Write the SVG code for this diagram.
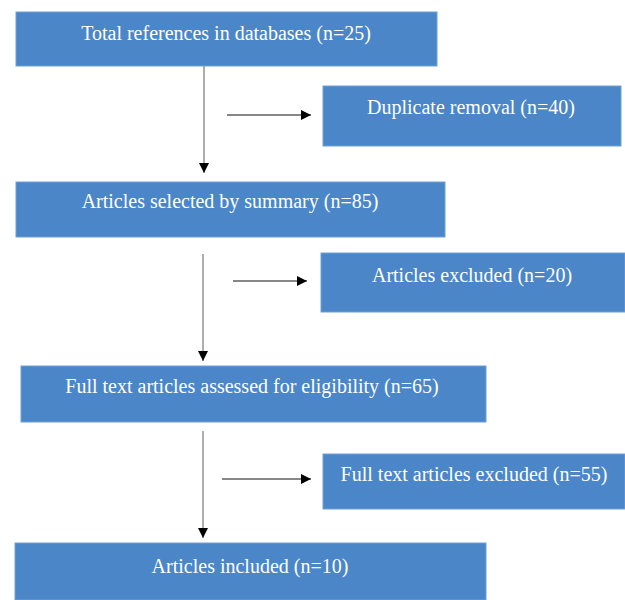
<svg xmlns="http://www.w3.org/2000/svg" width="625" height="600" viewBox="0 0 625 600">
<defs>
<style>
.box{fill:#4a86c8;stroke:#6e9fd5;stroke-width:1}
.lbl{font-family:"Liberation Serif","Times New Roman",serif;font-size:20px;fill:#ffffff;text-anchor:middle}
.v{stroke:#777777;stroke-width:1.2;fill:none}
.h{stroke:#111111;stroke-width:1.2;fill:none}
</style>
<marker id="ah" viewBox="0 0 10 10" refX="10" refY="5" markerWidth="10" markerHeight="10" markerUnits="userSpaceOnUse" orient="auto">
<path d="M0,0 L10,5 L0,10 Z" fill="#000000"/>
</marker>
</defs>
<rect width="625" height="600" fill="#ffffff"/>
<g id="connectors">
<line class="v" x1="204" y1="66" x2="204" y2="173" marker-end="url(#ah)"/>
<line class="h" x1="227" y1="115" x2="311" y2="115" marker-end="url(#ah)"/>
<line class="v" x1="203" y1="254" x2="203" y2="361" marker-end="url(#ah)"/>
<line class="h" x1="233" y1="281" x2="307" y2="281" marker-end="url(#ah)"/>
<line class="v" x1="203" y1="431" x2="203" y2="538" marker-end="url(#ah)"/>
<line class="h" x1="222" y1="479" x2="311" y2="479" marker-end="url(#ah)"/>
</g>
<g id="n1"><rect class="box" x="16" y="12" width="421" height="54"/><text class="lbl" x="226" y="40">Total references in databases (n=25)</text></g>
<g id="n2"><rect class="box" x="323" y="86" width="298" height="60"/><text class="lbl" x="471" y="114">Duplicate removal (n=40)</text></g>
<g id="n3"><rect class="box" x="16" y="182" width="429" height="55"/><text class="lbl" x="230" y="208">Articles selected by summary (n=85)</text></g>
<g id="n4"><rect class="box" x="321" y="253" width="304" height="59"/><text class="lbl" x="472" y="282">Articles excluded (n=20)</text></g>
<g id="n5"><rect class="box" x="21" y="366" width="465" height="56"/><text class="lbl" x="252" y="393">Full text articles assessed for eligibility (n=65)</text></g>
<g id="n6"><rect class="box" x="323" y="454" width="302" height="55"/><text class="lbl" x="474" y="481">Full text articles excluded (n=55)</text></g>
<g id="n7"><rect class="box" x="15" y="543" width="471" height="57"/><text class="lbl" x="250" y="573">Articles included (n=10)</text></g>
</svg>
